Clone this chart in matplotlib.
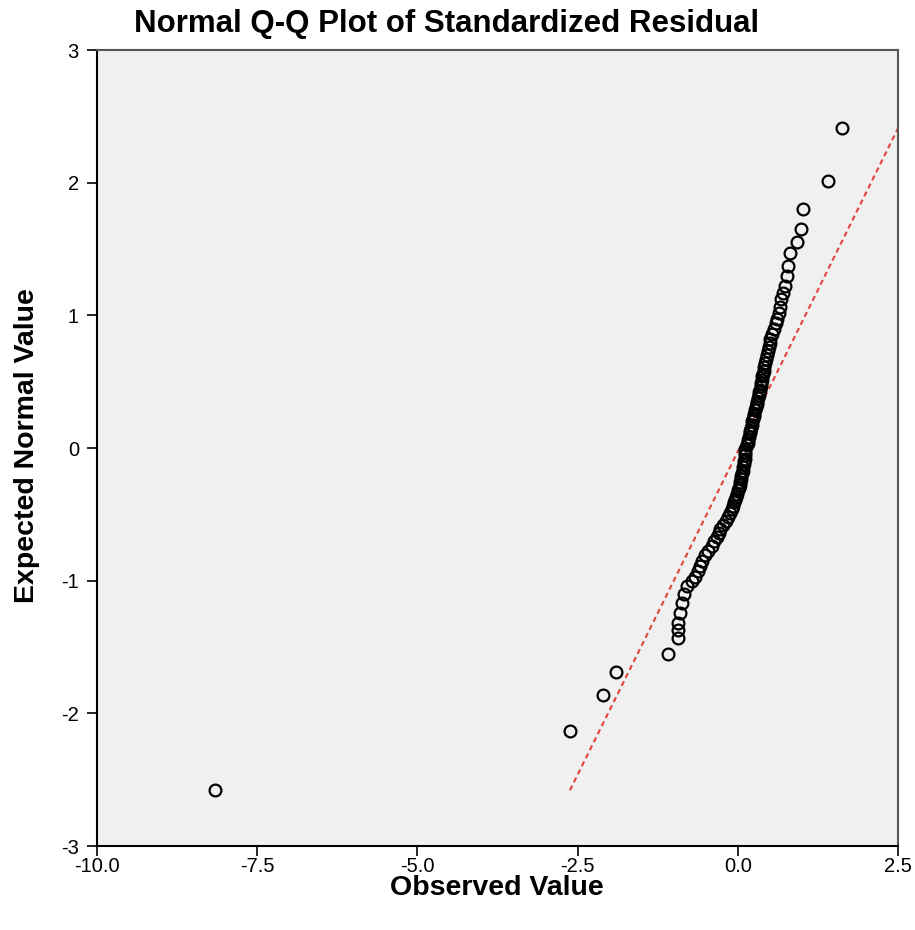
import matplotlib
matplotlib.use("Agg")
import matplotlib.pyplot as plt

plt.rcParams['font.family'] = ['Liberation Sans', 'DejaVu Sans']

# observed (standardized residual) and expected normal values
observed = [1.62, 1.40, 1.01, 0.98, 0.92, 0.81, 0.78, 0.76, 0.73, 0.70,
            0.67, 0.66, 0.64, 0.61, 0.59, 0.56, 0.53, 0.51, 0.50, 0.48,
            0.47, 0.45, 0.44, 0.42, 0.41, 0.41, 0.39, 0.37, 0.37, 0.36,
            0.36, 0.34, 0.33, 0.33, 0.31, 0.30, 0.30, 0.28, 0.27, 0.25,
            0.25, 0.23, 0.22, 0.22, 0.20, 0.19, 0.19, 0.17, 0.16, 0.16,
            0.14, 0.12, 0.12, 0.11, 0.11, 0.09, 0.09, 0.08, 0.08, 0.06,
            0.05, 0.05, 0.03, 0.03, 0.02, 0.00, -0.02, -0.03, -0.05, -0.06,
            -0.08, -0.09, -0.12, -0.16, -0.19, -0.23, -0.27, -0.30, -0.33, -0.37,
            -0.41, -0.47, -0.51, -0.56, -0.59, -0.62, -0.67, -0.72, -0.80, -0.84,
            -0.87, -0.90, -0.94, -0.94, -0.94, -1.09, -1.90, -2.11, -2.62, -8.16]
expected = [2.41, 2.01, 1.80, 1.65, 1.55, 1.47, 1.37, 1.30, 1.22, 1.17,
            1.12, 1.06, 1.02, 0.97, 0.94, 0.90, 0.86, 0.82, 0.79, 0.76,
            0.73, 0.70, 0.67, 0.64, 0.61, 0.58, 0.56, 0.54, 0.51, 0.49,
            0.47, 0.44, 0.42, 0.40, 0.38, 0.35, 0.33, 0.31, 0.29, 0.26,
            0.24, 0.22, 0.20, 0.17, 0.15, 0.13, 0.11, 0.08, 0.06, 0.04,
            0.02, -0.01, -0.03, -0.05, -0.08, -0.10, -0.12, -0.14, -0.17, -0.19,
            -0.21, -0.23, -0.26, -0.28, -0.30, -0.32, -0.35, -0.37, -0.39, -0.41,
            -0.44, -0.46, -0.49, -0.52, -0.55, -0.58, -0.61, -0.64, -0.67, -0.70,
            -0.74, -0.78, -0.81, -0.85, -0.89, -0.93, -0.97, -1.00, -1.04, -1.10,
            -1.17, -1.24, -1.32, -1.37, -1.43, -1.55, -1.69, -1.86, -2.13, -2.58]

# reference line end points
line_x = [-2.62, 2.5]
line_y = [-2.58, 2.41]

x_ticks = [-10.0, -7.5, -5.0, -2.5, 0.0, 2.5]
y_ticks = [-3, -2, -1, 0, 1, 2, 3]

fig = plt.figure(figsize=(9.15, 9.3), dpi=100)
ax = fig.add_axes([97 / 915, 1 - 846 / 930, (898 - 97) / 915, (846 - 50) / 930])
ax.set_facecolor('#F0F0F0')

ax.plot(line_x, line_y, color='#E8413C', linestyle=(0, (2.5, 1.8)), linewidth=1.5, zorder=2)
ax.plot(observed, expected, linestyle='none', marker='o', markersize=8.5,
        markerfacecolor='none', markeredgecolor='black', markeredgewidth=1.6, zorder=3)

ax.set_xlim(-10.0, 2.5)
ax.set_ylim(-3, 3)
ax.set_xticks(x_ticks)
ax.set_xticklabels(['%.1f' % v for v in x_ticks])
ax.set_yticks(y_ticks)
ax.set_yticklabels([str(v) for v in y_ticks])
ax.tick_params(direction='out', length=7, width=1.2, labelsize=14.5, colors='black')
ax.tick_params(axis='x', pad=1)
ax.tick_params(axis='y', pad=6)

for side in ['left', 'bottom']:
    ax.spines[side].set_color('black')
    ax.spines[side].set_linewidth(1.5)
for side in ['top', 'right']:
    ax.spines[side].set_color('#555555')
    ax.spines[side].set_linewidth(1.5)

fig.text(447 / 915, 1 - 24 / 930, 'Normal Q-Q Plot of Standardized Residual',
         ha='center', va='center', fontsize=22.5, fontweight='bold')
fig.text(497 / 915, 1 - 888 / 930, 'Observed Value',
         ha='center', va='center', fontsize=20.5, fontweight='bold')
fig.text(27 / 915, 1 - 446 / 930, 'Expected Normal Value',
         ha='center', va='center', fontsize=20.5, fontweight='bold', rotation=90)

fig.savefig('out.png', dpi=100, facecolor='white')
